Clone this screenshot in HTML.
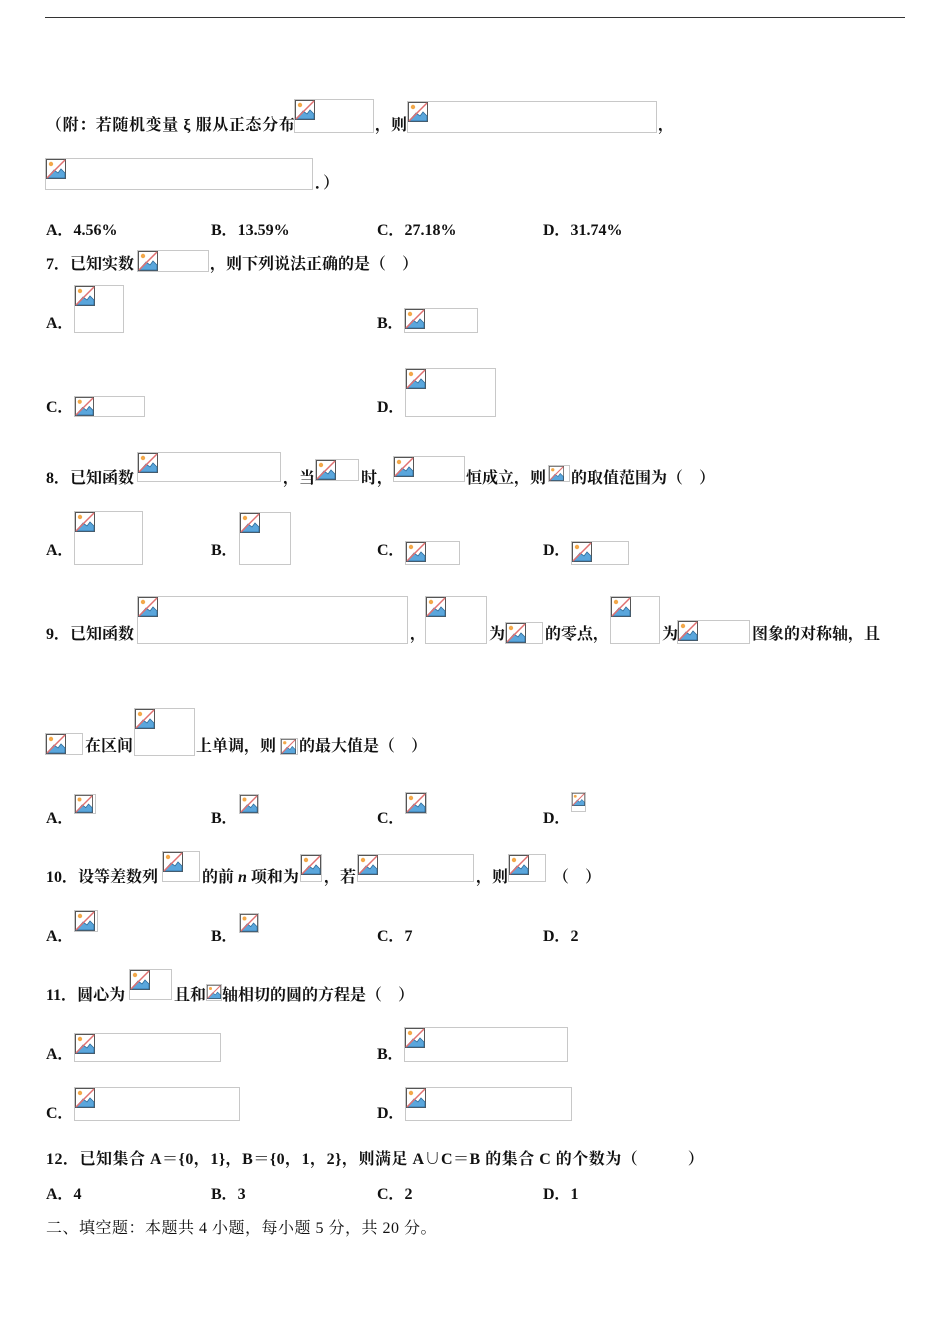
<!DOCTYPE html>
<html><head><meta charset="utf-8"><style>
body{margin:0;width:950px;height:1344px;background:#fff;position:relative;overflow:hidden;font-family:"Liberation Serif","Noto Serif CJK SC","Noto Sans CJK SC",serif;font-size:16px;font-weight:bold;color:#111}
.t{position:absolute;line-height:18px;white-space:nowrap;margin-top:2px}
.b{position:absolute;border:1px solid #c8c8c8;box-sizing:border-box}
.b svg{position:absolute;left:0;top:0}
.hr{position:absolute;left:45px;top:17px;width:860px;height:1px;background:#333}
</style></head><body>
<div class="hr"></div>
<div id="boxes"></div>
<div class="t" style="left:46px;top:115px;letter-spacing:0.6px">（附：若随机变量 ξ 服从正态分布</div>
<div class="t" style="left:375px;top:115px">，则</div>
<div class="t" style="left:658px;top:115px">，</div>
<div class="t" style="left:315px;top:173px">．）</div>
<div class="t" style="left:46px;top:220px">A．4.56%</div>
<div class="t" style="left:211px;top:220px">B．13.59%</div>
<div class="t" style="left:377px;top:220px">C．27.18%</div>
<div class="t" style="left:543px;top:220px">D．31.74%</div>
<div class="t" style="left:46px;top:254px">7．已知实数</div>
<div class="t" style="left:210px;top:254px">，则下列说法正确的是（　）</div>
<div class="t" style="left:46px;top:313px">A．</div>
<div class="t" style="left:377px;top:313px">B．</div>
<div class="t" style="left:46px;top:397px">C．</div>
<div class="t" style="left:377px;top:397px">D．</div>
<div class="t" style="left:46px;top:468px">8．已知函数</div>
<div class="t" style="left:283px;top:468px">，当</div>
<div class="t" style="left:361px;top:468px">时，</div>
<div class="t" style="left:466px;top:468px">恒成立，则</div>
<div class="t" style="left:571px;top:468px">的取值范围为（　）</div>
<div class="t" style="left:46px;top:540px">A．</div>
<div class="t" style="left:211px;top:540px">B．</div>
<div class="t" style="left:377px;top:540px">C．</div>
<div class="t" style="left:543px;top:540px">D．</div>
<div class="t" style="left:46px;top:624px">9．已知函数</div>
<div class="t" style="left:410px;top:624px">，</div>
<div class="t" style="left:489px;top:624px">为</div>
<div class="t" style="left:545px;top:624px">的零点，</div>
<div class="t" style="left:662px;top:624px">为</div>
<div class="t" style="left:752px;top:624px">图象的对称轴，且</div>
<div class="t" style="left:85px;top:736px">在区间</div>
<div class="t" style="left:196px;top:736px">上单调，则</div>
<div class="t" style="left:299px;top:736px">的最大值是（　）</div>
<div class="t" style="left:46px;top:808px">A．</div>
<div class="t" style="left:211px;top:808px">B．</div>
<div class="t" style="left:377px;top:808px">C．</div>
<div class="t" style="left:543px;top:808px">D．</div>
<div class="t" style="left:46px;top:867px">10．设等差数列</div>
<div class="t" style="left:202px;top:867px">的前 <i>n</i> 项和为</div>
<div class="t" style="left:324px;top:867px">，若</div>
<div class="t" style="left:476px;top:867px">，则</div>
<div class="t" style="left:553px;top:867px">（　）</div>
<div class="t" style="left:46px;top:926px">A．</div>
<div class="t" style="left:211px;top:926px">B．</div>
<div class="t" style="left:377px;top:926px">C．7</div>
<div class="t" style="left:543px;top:926px">D．2</div>
<div class="t" style="left:46px;top:985px">11．圆心为</div>
<div class="t" style="left:174px;top:985px">且和</div>
<div class="t" style="left:222px;top:985px">轴相切的圆的方程是（　）</div>
<div class="t" style="left:46px;top:1044px">A．</div>
<div class="t" style="left:377px;top:1044px">B．</div>
<div class="t" style="left:46px;top:1103px">C．</div>
<div class="t" style="left:377px;top:1103px">D．</div>
<div class="t" style="left:46px;top:1149px;letter-spacing:0.5px">12．已知集合 A＝{0，1}，B＝{0，1，2}，则满足 A∪C＝B 的集合 C 的个数为（　　　）</div>
<div class="t" style="left:46px;top:1184px">A．4</div>
<div class="t" style="left:211px;top:1184px">B．3</div>
<div class="t" style="left:377px;top:1184px">C．2</div>
<div class="t" style="left:543px;top:1184px">D．1</div>
<div class="t" style="left:46px;top:1218px;font-weight:normal;letter-spacing:0.5px">二、填空题：本题共 4 小题，每小题 5 分，共 20 分。</div>
<script>
var B=[[294,99,80,34],[407,101,250,32],[45,158,268,32],[137,250,72,22],[74,285,50,48],[404,308,74,25],[74,396,71,21],[405,368,91,49],
[137,452,144,30],[315,459,44,22],[393,456,72,26],[548,465,22,17],[74,511,69,54],[239,512,52,53],[405,541,55,24],[571,541,58,24],
[137,596,271,48],[425,596,62,48],[505,622,38,22],[610,596,50,48],[677,620,73,24],[45,733,38,22],[134,708,61,48],[280,738,18,17],
[74,794,22,20],[239,794,20,20],[405,792,22,22],[571,792,15,20],[162,851,38,31],[300,854,22,28],[357,854,117,28],[508,854,38,28],
[74,910,24,22],[239,913,20,20],[129,969,43,31],[206,984,16,17],[74,1033,147,29],[404,1027,164,35],[74,1087,166,34],[405,1087,167,34]];
var ic='<svg width="20" height="20" viewBox="0 0 20 20"><rect x="0.5" y="0.5" width="19" height="19" fill="#fff" stroke="#555"/><path d="M1 19 L8 11 L12 14 L15 10 L19 14 L19 19 Z" fill="#5aa6dc" stroke="#2a6a9a" stroke-width="0.8"/><circle cx="5" cy="5" r="2.2" fill="#f3a84a"/><line x1="1" y1="19" x2="19" y2="1" stroke="#e07070" stroke-width="1.5"/></svg>';
var h='';B.forEach(function(b){var s=Math.min(20,b[2]-2,b[3]-2);h+='<div class="b" style="left:'+b[0]+'px;top:'+b[1]+'px;width:'+b[2]+'px;height:'+b[3]+'px">'+ic.replace(/width="20" height="20"/,'width="'+s+'" height="'+s+'"')+'</div>';});
document.getElementById('boxes').innerHTML=h;
</script>
</body></html>
